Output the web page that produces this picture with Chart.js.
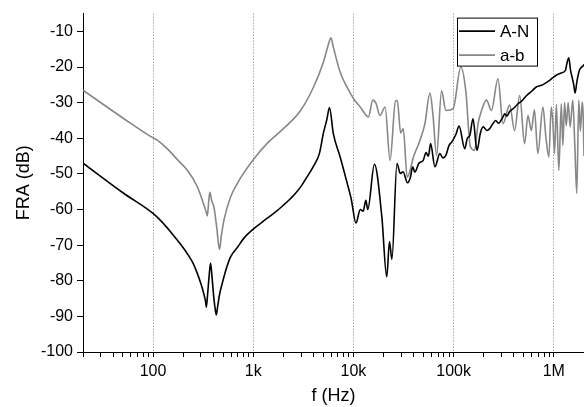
<!DOCTYPE html>
<html>
<head>
<meta charset="utf-8">
<script src="https://cdn.jsdelivr.net/npm/chart.js@4"></script>
<style>
  html, body { margin: 0; padding: 0; background: #fff; }
  #wrap { width: 584px; height: 407px; }
</style>
</head>
<body>
<div id="wrap"><canvas id="fraChart" width="584" height="407"></canvas></div>
<script>
// A-N trace (black)
const freqAN = [20, 50, 100, 120, 150, 185, 220, 250, 277, 300, 320, 335, 340, 350, 362, 375, 388, 405, 420, 428, 440, 460, 490, 540, 594, 700, 804, 1000,
  1300, 1600, 2000, 2540, 3000, 3430, 4000, 4570, 5020, 5400, 5770, 6300, 7360, 8600, 9500, 10600, 11700, 12500, 13300, 13900, 16200, 19200,
  21500, 22900, 24200, 27200, 29400, 31300, 34600, 37000, 39000, 41000, 45000, 49700, 53000, 56000, 58900, 65000, 72900, 78000, 83600, 90000,
  96000, 105000, 113500, 129000, 137000, 145000, 156000, 171000, 185000, 197000, 215000, 229000, 245000, 263000, 280000, 311000, 324000,
  340000, 362000, 400000, 439000, 480000, 535000, 600000, 668000, 740000, 826000, 930000, 1056000, 1200000, 1307000, 1350000, 1410000,
  1470000, 1520000, 1580000, 1630000, 1700000, 1800000, 1980000, 2000000];
const dbAN = [-47, -55.3, -61.1, -63.2, -66.3, -69.5, -72.4, -75, -78, -80.8, -83.5, -86, -87.4, -84, -79, -75, -79, -85, -88.5, -89.6, -87.5, -84, -80.8, -76.5, -73.3, -70.5, -68.1, -65.5,
  -63, -61.1, -58.8, -56, -53.5, -50.9, -47.8, -44.3, -38.5, -35, -31.4, -38.7, -45.2, -52.3, -57, -63.8, -60, -60.5, -57.4, -60, -47.3, -62,
  -78.9, -69, -74, -47.1, -49.9, -49.4, -52.5, -51, -48, -49.5, -47, -46.2, -44, -45, -41.5, -48, -44.3, -45.5, -44.8, -42,
  -41, -39, -36.6, -42.9, -40, -39.2, -34.5, -43.4, -38.5, -36.8, -37.8, -37.3, -36, -35, -35.8, -34, -33.1,
  -33.8, -32.5, -31.5, -30.3, -29.5, -28, -26.8, -25.6, -25.2, -24.5, -23.5, -22.3, -21.6, -20.9, -19, -17.4,
  -21, -22.8, -25, -27.3, -24, -20.9, -19.5, -19.2];

// a-b trace (grey)
const freqAB = [20, 50, 100, 110, 130, 144, 175, 220, 277, 300, 320, 340, 348, 360, 369, 385, 405, 430, 461, 480, 510, 594, 700, 775, 1000,
  1370, 2000, 2970, 4000, 5020, 5640, 5960, 6300, 7360, 8600, 10200, 11700, 14100, 15600, 16800, 18400, 20700, 23200, 26300, 27400, 29600,
  31400, 34400, 40000, 46100, 51700, 58000, 62000, 67600, 75800, 83600, 98900, 118000, 132000, 147000, 162000, 175000, 190000, 213000,
  238000, 277000, 311000, 362000, 406000, 456000, 511000, 551000, 596000, 640000, 693000, 778000, 835000, 892000, 942000, 980000, 1016000,
  1060000, 1122000, 1186000, 1230000, 1280000, 1330000, 1390000, 1455000, 1545000, 1620000, 1694000, 1774000, 1840000, 1920000, 1960000, 2000000];
const dbAB = [-26.5, -34.3, -39.9, -40.5, -42.2, -43.4, -46, -49, -53.6, -56.2, -58.5, -60.8, -61.8, -57.5, -55.2, -57.5, -59.3, -64.5, -71.2, -67.5, -63, -56.5, -52.5, -50.4, -46,
  -41.5, -37.3, -32.2, -25.6, -18.6, -13.5, -11.8, -14.4, -21.4, -25.6, -29.2, -31.2, -34, -29.3, -30.2, -33.6, -31.2, -46.2, -29.5, -29.4, -38.5,
  -37.3, -50.9, -45, -40.6, -35.9, -27.3, -33, -44.8, -26.7, -32.2, -31.7, -20, -26.5, -42.4, -43.4, -36, -32.2, -29.3,
  -32.2, -23.3, -35.9, -30.7, -37.8, -28, -41.5, -33.6, -37.8, -32, -44.3, -31.2, -40, -45.2, -31.2, -36, -44.3,
  -30.5, -49, -30.3, -42, -30, -36.5, -30, -36.8, -29.3, -42, -55.5, -29.3, -38, -29.8, -33, -45];

// axis ticks
const xTickValues = [100, 1000, 10000, 100000, 1000000];
const xTickLabels = ['100', '1k', '10k', '100k', '1M'];
const yTickValues = [-100, -90, -80, -70, -60, -50, -40, -30, -20, -10];

const seriesLabels = ['A-N', 'a-b'];
const seriesColors = ['#000000', '#878787'];

const FONT = '"Liberation Sans", Arial, sans-serif';

function toPoints(xs, ys) {
  return xs.map((x, i) => ({ x: x, y: ys[i] }));
}

function isDecade(v) {
  return xTickValues.indexOf(v) !== -1;
}

// boxed legend inside the plot, like the original
const boxLegend = {
  id: 'boxLegend',
  afterDatasetsDraw(chart) {
    const ctx = chart.ctx;
    const area = chart.chartArea;
    const left = area.right - 127;
    const top = area.top + 4;
    const w = 80, h = 48;
    ctx.save();
    ctx.fillStyle = '#fff';
    ctx.fillRect(left, top, w, h);
    ctx.strokeStyle = '#000';
    ctx.lineWidth = 1;
    ctx.strokeRect(left + 0.5, top + 0.5, w, h);
    ctx.font = '17px ' + FONT;
    ctx.textBaseline = 'middle';
    seriesLabels.forEach((lab, i) => {
      const y = top + 13.5 + i * 24;
      ctx.strokeStyle = seriesColors[i];
      ctx.lineWidth = 1.6;
      ctx.beginPath();
      ctx.moveTo(left + 2, y);
      ctx.lineTo(left + 38, y);
      ctx.stroke();
      ctx.fillStyle = '#000';
      ctx.fillText(lab, left + 43, y + 1);
    });
    ctx.restore();
  }
};

const ctx = document.getElementById('fraChart').getContext('2d');
new Chart(ctx, {
  type: 'line',
  data: {
    datasets: [
      {
        label: seriesLabels[0],
        data: toPoints(freqAN, dbAN),
        borderColor: seriesColors[0],
        borderWidth: 1.6,
        pointRadius: 0,
        cubicInterpolationMode: 'monotone',
        fill: false
      },
      {
        label: seriesLabels[1],
        data: toPoints(freqAB, dbAB),
        borderColor: seriesColors[1],
        borderWidth: 1.6,
        pointRadius: 0,
        cubicInterpolationMode: 'monotone',
        fill: false
      }
    ]
  },
  options: {
    responsive: false,
    devicePixelRatio: 1,
    animation: false,
    layout: { padding: { top: 13, right: 0, left: 0, bottom: 0 } },
    plugins: {
      legend: { display: false },
      tooltip: { enabled: false }
    },
    scales: {
      x: {
        type: 'logarithmic',
        min: 20,
        max: 2000000,
        afterBuildTicks(scale) {
          const ticks = [];
          for (let d = 10; d <= 1000000; d *= 10) {
            for (let m = 1; m <= 9; m++) {
              const v = m * d;
              if (v >= 20 && v <= 2000000) ticks.push({ value: v });
            }
          }
          scale.ticks = ticks;
        },
        afterFit(scale) {
          scale.height = 55;
          scale.paddingLeft = 0;
          scale.paddingRight = 0;
        },
        ticks: {
          autoSkip: false,
          maxRotation: 0,
          padding: 5,
          color: '#000',
          font: { family: FONT, size: 16 },
          callback(value) {
            const i = xTickValues.indexOf(value);
            return i === -1 ? '' : xTickLabels[i];
          }
        },
        grid: {
          drawOnChartArea: true,
          color: (c) => (c.tick && isDecade(c.tick.value)) ? '#7a7a7a' : 'rgba(0,0,0,0)',
          lineWidth: 1,
          tickColor: '#000',
          tickLength: 5
        },
        border: { display: true, color: '#000', width: 1, dash: [1, 2] },
        title: {
          display: true,
          text: 'f (Hz)',
          color: '#000',
          font: { family: FONT, size: 18 },
          padding: { top: 0, bottom: 0 }
        }
      },
      y: {
        type: 'linear',
        min: -100,
        max: -5,
        afterFit(scale) { scale.width = 83; },
        ticks: {
          stepSize: 5,
          padding: 4,
          color: '#000',
          font: { family: FONT, size: 16 },
          callback(value) {
            return yTickValues.indexOf(value) !== -1 ? String(value) : '';
          }
        },
        grid: {
          drawOnChartArea: false,
          drawTicks: true,
          tickColor: '#000',
          tickLength: 6
        },
        border: { display: true, color: '#000', width: 1 },
        title: {
          display: true,
          text: 'FRA (dB)',
          color: '#000',
          font: { family: FONT, size: 18 },
          padding: { top: 13, bottom: 0 }
        }
      }
    }
  },
  plugins: [boxLegend]
});
</script>
</body>
</html>
